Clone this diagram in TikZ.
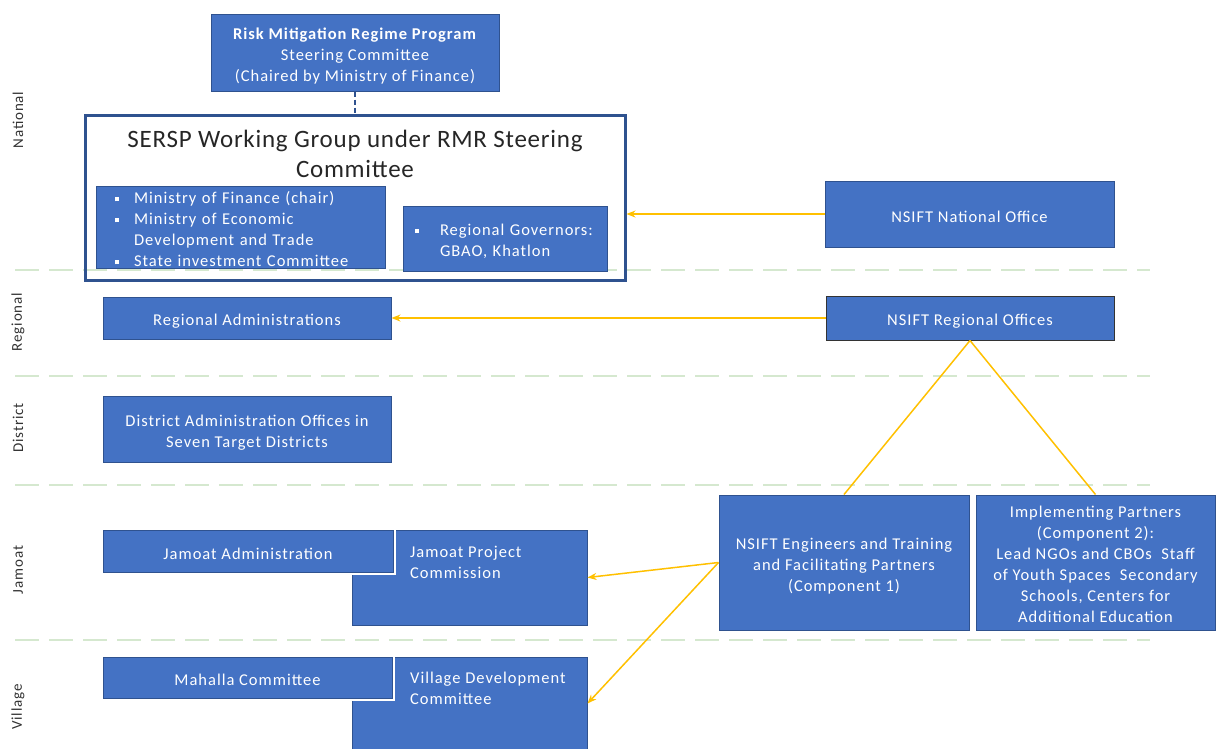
\documentclass[tikz,border=0pt]{standalone}
\usepackage{fontspec}
\setmainfont{Carlito}[LetterSpace=6]
\usetikzlibrary{arrows.meta}
\usetikzlibrary{positioning}
\definecolor{boxblue}{HTML}{4472C4}
\definecolor{boxedge}{HTML}{2F528F}
\definecolor{linkgold}{HTML}{FFC000}
\definecolor{tiergreen}{HTML}{D5E8CF}
\newcommand\itemsq[1]{\makebox[#1][l]{\rule[2.5pt]{4pt}{4pt}}}
\newcommand\topgap[1]{\rule{0pt}{#1}}

\begin{document}
\begin{tikzpicture}[
  x=1pt, y=-1pt,
  unit/.style     = {draw=boxedge, line width=1pt, fill=boxblue, text=white, font=\fontsize{16.5}{21}\selectfont, align=center, inner sep=0pt,
                     execute at begin node={\rule{0pt}{17pt}}},
  unittext/.style = {text=white, font=\fontsize{16.5}{21}\selectfont, align=left, inner sep=0pt},
  group/.style    = {draw=boxedge, line width=3pt, inner sep=0pt},
  tier/.style     = {tiergreen, line width=1.5pt, dash pattern=on 24pt off 10pt},
  level/.style    = {rotate=90, font=\fontsize{15}{17}\selectfont, text=black!80},
  link/.style     = {linkgold, line width=1.5pt},
  arrowlink/.style= {link, -{Stealth[length=9pt,width=7pt]}}
]
  \useasboundingbox (0,0) rectangle (1216,748);
  \foreach \y in {270,376,485,640}
    \draw[tier] (15,\y) -- (1150,\y);

  \node[level] (national) at (18,120) {National};
  \node[level] (regional) at (18,322) {Regional};
  \node[level] (district) at (18,428) {District};
  \node[level] (jamoatlvl) at (18,570) {Jamoat};
  \node[level] (village)  at (18,707) {Village};

  \node[unit, minimum width=288pt, minimum height=77pt] (rmr) at (355,52.5)
    {\topgap{19pt}\textbf{Risk Mitigation Regime Program}\\Steering Committee\\(Chaired by Ministry of Finance)};
  \node[group, minimum width=540pt, minimum height=165pt] (sersp) at (355,197.5) {};
  \node[font=\fontsize{25}{30}\selectfont\addfontfeature{LetterSpace=3}, align=center, text=black!85] (title) at (355,154)
    {SERSP Working Group under RMR Steering\\Committee};
  \node[unit, minimum width=289pt, minimum height=82pt, text width=251pt, align=left] (members) at (240.5,227)
    {\itemsq{19pt}Ministry of Finance (chair)\\
     \itemsq{19pt}Ministry of Economic\\
     \hspace*{19pt}Development and Trade\\
     \itemsq{19pt}State investment Committee};
  \node[unit, minimum width=204pt, minimum height=65pt, text width=180pt, align=left] (governors) at (505,238.5)
    {\itemsq{25pt}Regional Governors:\\ \hspace*{25pt}GBAO, Khatlon};

  \node[unit, minimum width=289pt, minimum height=66pt] (natoffice) at (969.5,214) {NSIFT National Office};
  \node[unit, minimum width=288pt, minimum height=42pt] (regadmin) at (247,318) {Regional Administrations};
  \node[unit, minimum width=288pt, minimum height=44pt, draw=black!80] (regoffice) at (970,318) {NSIFT Regional Offices};
  \node[unit, minimum width=288pt, minimum height=66pt] (distadmin) at (247,429)
    {\topgap{19pt}District Administration Offices in\\Seven Target Districts};

  \node[unit, minimum width=250pt, minimum height=135pt] (engineers) at (844,562.5)
    {\topgap{19pt}NSIFT Engineers and Training\\and Facilitating Partners\\(Component 1)};
  \node[unit, minimum width=239pt, minimum height=135pt] (partners) at (1095.5,562.5)
    {\topgap{16pt}Implementing Partners\\(Component 2):\\Lead NGOs and CBOs~ Staff\\of Youth Spaces~ Secondary\\Schools, Centers for\\Additional Education};

  \node[unit, minimum width=235pt, minimum height=95pt] (commission) at (469.5,577.5) {};
  \node[unittext, anchor=north west] (commissiontext) at (410,546) {Jamoat Project\\Commission};
  \node[unit, minimum width=290pt, minimum height=42pt, preaction={draw=white, line width=6pt}] (jamoat) at (248,551)
    {Jamoat Administration};

  \node[unit, minimum width=235pt, minimum height=93pt] (vdc) at (469.5,703.5) {};
  \node[unittext, anchor=north west] (vdctext) at (410,672) {Village Development\\Committee};
  \node[unit, minimum width=289pt, minimum height=41pt, preaction={draw=white, line width=6pt}] (mahalla) at (247.5,677.5)
    {Mahalla Committee};

  \draw[boxedge, line width=2pt, dash pattern=on 5pt off 3pt] (rmr) -- (sersp);
  \draw[arrowlink] (natoffice.west) -- (natoffice.west -| sersp.east);
  \draw[arrowlink] (regoffice) -- (regadmin);
  \draw[link] (regoffice.south) -- (engineers.north);
  \draw[link] (regoffice.south) -- (partners.north);
  \draw[arrowlink] (engineers.west) -- (commission.east);
  \draw[arrowlink] (engineers.west) -- (vdc.east);
\end{tikzpicture}
\end{document}
